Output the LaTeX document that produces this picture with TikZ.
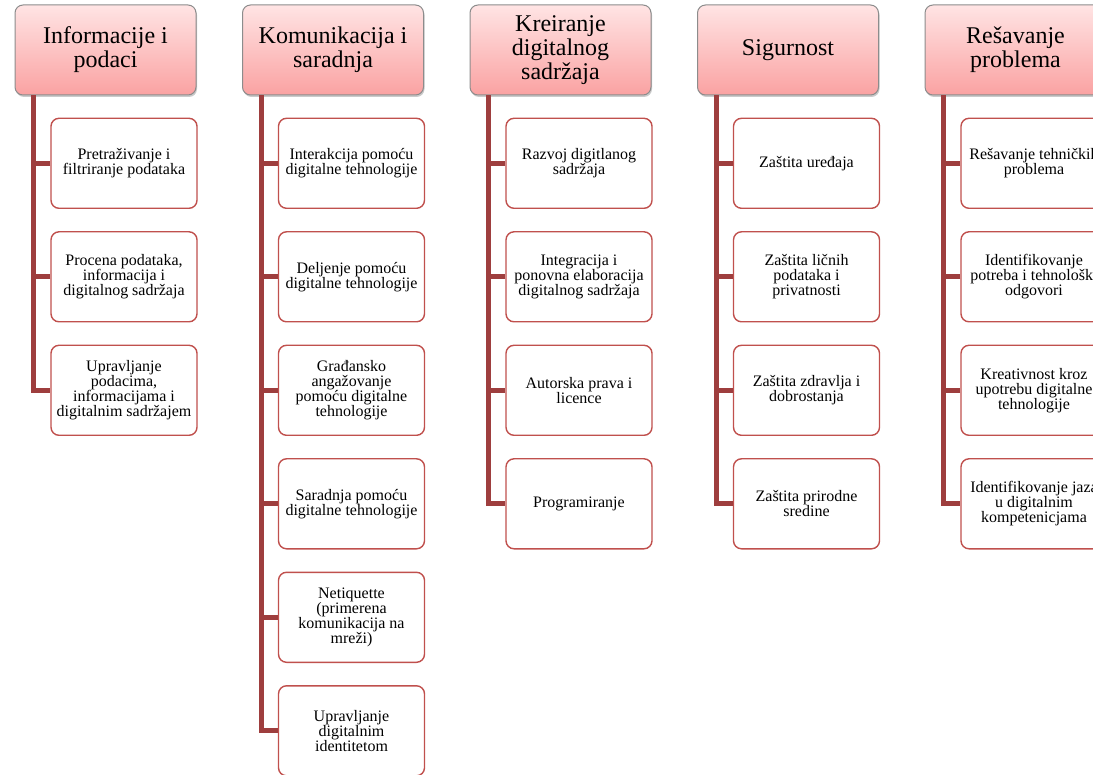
\documentclass[tikz,border=0pt]{standalone}
\usepackage{fontspec}
\setmainfont{Liberation Serif}
\usetikzlibrary{positioning,shadows}

\definecolor{branch}{RGB}{158,62,62}
\definecolor{itemred}{RGB}{192,80,77}
\definecolor{headtop}{RGB}{255,228,228}
\definecolor{headbot}{RGB}{250,162,162}
\definecolor{headgray}{RGB}{140,140,140}

\begin{document}
\begin{tikzpicture}[x=1pt, y=-1pt,
  node distance=22.1pt and 45.5pt,
  head/.style={draw=headgray, line width=1pt, rounded corners=8pt,
    top color=headtop, bottom color=headbot,
    minimum width=181pt, minimum height=90pt, inner sep=2pt, align=center,
    font=\fontsize{24}{24}\selectfont,
    drop shadow={shadow xshift=1pt, shadow yshift=-2pt, opacity=0.35, fill=black!60}},
  item/.style={draw=itemred, line width=1.4pt, rounded corners=8pt, fill=white,
    minimum width=146pt, minimum height=90pt, inner sep=1pt, align=center,
    font=\fontsize{16}{15}\selectfont},
  link/.style={branch, line width=5pt, line join=miter}]
\useasboundingbox (0,0) rectangle (1093,775);
% ---- column headers ----
\node[head] (h1) at (105.5,50) {Informacije i\\podaci};
\node[head, right=of h1] (h2) {Komunikacija i\\saradnja};
\node[head, right=of h2] (h3) {Kreiranje\\digitalnog\\sadržaja};
\node[head, right=of h3] (h4) {Sigurnost};
\node[head, right=of h4] (h5) {Rešavanje\\problema};
% ---- Informacije i podaci ----
\node[item, below=of h1, xshift=18.5pt] (a1) {Pretraživanje i\\filtriranje  podataka};
\node[item, below=of a1] (a2) {Procena podataka,\\informacija i\\digitalnog  sadržaja};
\node[item, below=of a2] (a3) {Upravljanje\\podacima,\\informacijama i\\digitalnim  sadržajem};
\coordinate (t1) at ([xshift=-72pt]h1.south);
\draw[link] (t1) |- (a3.west);
\draw[link] (a1.west) -- (a1.west -| t1);
\draw[link] (a2.west) -- (a2.west -| t1);
% ---- Komunikacija i saradnja ----
\node[item, below=of h2, xshift=18.5pt] (b1) {Interakcija pomoću\\digitalne tehnologije};
\node[item, below=of b1] (b2) {Deljenje pomoću\\digitalne tehnologije};
\node[item, below=of b2] (b3) {Građansko\\angažovanje\\pomoću digitalne\\tehnologije};
\node[item, below=of b3] (b4) {Saradnja pomoću\\digitalne tehnologije};
\node[item, below=of b4] (b5) {Netiquette\\(primerena\\komunikacija na\\mreži)};
\node[item, below=of b5] (b6) {Upravljanje\\digitalnim\\identitetom};
\coordinate (t2) at ([xshift=-72pt]h2.south);
\draw[link] (t2) |- (b6.west);
\draw[link] (b1.west) -- (b1.west -| t2);
\draw[link] (b2.west) -- (b2.west -| t2);
\draw[link] (b3.west) -- (b3.west -| t2);
\draw[link] (b4.west) -- (b4.west -| t2);
\draw[link] (b5.west) -- (b5.west -| t2);
% ---- Kreiranje digitalnog sadrzaja ----
\node[item, below=of h3, xshift=18.5pt] (c1) {Razvoj digitlanog\\sadržaja};
\node[item, below=of c1] (c2) {Integracija i\\ponovna elaboracija\\digitalnog  sadržaja};
\node[item, below=of c2] (c3) {Autorska prava i\\licence};
\node[item, below=of c3] (c4) {Programiranje};
\coordinate (t3) at ([xshift=-72pt]h3.south);
\draw[link] (t3) |- (c4.west);
\draw[link] (c1.west) -- (c1.west -| t3);
\draw[link] (c2.west) -- (c2.west -| t3);
\draw[link] (c3.west) -- (c3.west -| t3);
% ---- Sigurnost ----
\node[item, below=of h4, xshift=18.5pt] (d1) {Zaštita  uređaja};
\node[item, below=of d1] (d2) {Zaštita ličnih\\podataka i\\privatnosti};
\node[item, below=of d2] (d3) {Zaštita zdravlja i\\dobrostanja};
\node[item, below=of d3] (d4) {Zaštita prirodne\\sredine};
\coordinate (t4) at ([xshift=-72pt]h4.south);
\draw[link] (t4) |- (d4.west);
\draw[link] (d1.west) -- (d1.west -| t4);
\draw[link] (d2.west) -- (d2.west -| t4);
\draw[link] (d3.west) -- (d3.west -| t4);
% ---- Resavanje problema ----
\node[item, below=of h5, xshift=18.5pt] (e1) {Rešavanje tehničkih\\problema};
\node[item, below=of e1] (e2) {Identifikovanje\\potreba i tehnološki\\odgovori};
\node[item, below=of e2] (e3) {Kreativnost kroz\\upotrebu digitalne\\tehnologije};
\node[item, below=of e3] (e4) {Identifikovanje jaza\\u digitalnim\\kompetenicjama};
\coordinate (t5) at ([xshift=-72pt]h5.south);
\draw[link] (t5) |- (e4.west);
\draw[link] (e1.west) -- (e1.west -| t5);
\draw[link] (e2.west) -- (e2.west -| t5);
\draw[link] (e3.west) -- (e3.west -| t5);
\end{tikzpicture}
\end{document}
